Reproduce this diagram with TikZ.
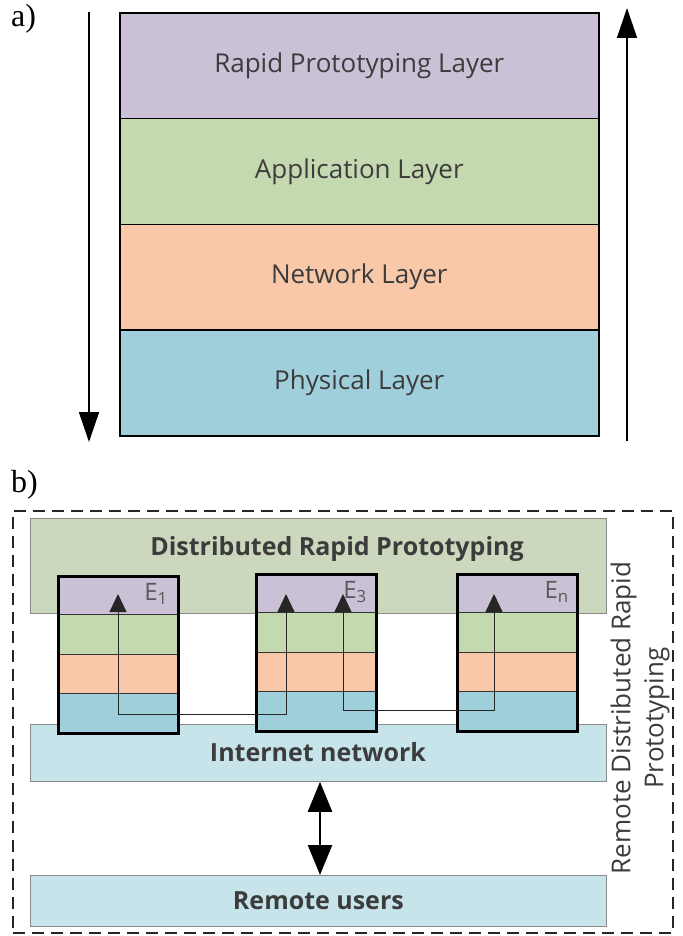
\documentclass[tikz,border=0pt]{standalone}
\usepackage{fontspec}
\setmainfont{Open Sans}
\newfontfamily\serifl{Liberation Serif}
\usetikzlibrary{arrows.meta}
\definecolor{cpurp}{HTML}{CBC1D6}
\definecolor{cgreen}{HTML}{C5D9B0}
\definecolor{corange}{HTML}{F8C8A8}
\definecolor{cblue}{HTML}{A0CFDC}
\definecolor{cdist}{HTML}{CBD8BE}
\definecolor{clight}{HTML}{C6E4EA}
\definecolor{ctext}{HTML}{3C3C3C}
\definecolor{cedge}{HTML}{8A8A8A}
\tikzset{
  layerA/.style={draw=black, line width=1.6pt, minimum width=479pt, minimum height=105.75pt,
    anchor=north west, inner sep=0pt, text=ctext, font=\fontsize{26}{30}\selectfont},
  band/.style={draw=black!80, line width=0.6pt, minimum width=120pt, minimum height=39.25pt,
    anchor=north west, inner sep=0pt},
  frame/.style={draw=black, line width=2.6pt, minimum width=120pt, minimum height=157pt,
    anchor=north west, inner sep=0pt},
  widebox/.style={draw=cedge, line width=0.8pt, minimum width=576pt, anchor=north west,
    inner sep=0pt, text=ctext, font=\fontsize{25}{30}\selectfont\bfseries},
  boldtext/.style={text=ctext, font=\fontsize{25}{30}\selectfont\bfseries},
  bigarrow/.style={line width=1.6pt, -{Triangle[width=20pt,length=30pt]}},
  smallarrow/.style={line width=0.9pt, draw=black!85, {Triangle[width=17pt,length=18pt]}-{Triangle[width=17pt,length=18pt]}},
  elabel/.style={anchor=north east, inner sep=0pt, text=black!65, font=\fontsize{24}{26}\selectfont},
  panel/.style={font=\serifl\fontsize{32}{34}\selectfont, anchor=north west, inner sep=0pt}
}
\begin{document}
\begin{tikzpicture}[x=1pt,y=-1pt]
\useasboundingbox (0,0) rectangle (682,936);
% ---------- a)
\node[panel] (la) at (11,4) {a)};
\node[layerA, fill=cpurp]   (rp)  at (119,12)     {Rapid Prototyping Layer};
\node[layerA, fill=cgreen]  (app) at (119,117.75) {Application Layer};
\node[layerA, fill=corange] (net) at (119,223.5)  {Network Layer};
\node[layerA, fill=cblue]   (phy) at (119,329.25) {Physical Layer};
\coordinate (ldtop) at (89,12);
\coordinate (ldbot) at (89,442);
\coordinate (rutop) at (627,8);
\coordinate (rubot) at (627,441);
\draw[bigarrow] (ldtop) -- (ldbot);
\draw[bigarrow] (rubot) -- (rutop);
% ---------- b)
\node[panel] (lb) at (11,470) {b)};
\node[draw=black!85, line width=1.8pt, dash pattern=on 12pt off 7pt, minimum width=660pt,
  minimum height=422pt, anchor=north west, inner sep=0pt] (outer) at (12,510) {};
\node[widebox, fill=cdist, minimum height=95pt] (dist) at (30,518) {};
\node[boldtext] (disttext) at (337,549) {Distributed Rapid Prototyping};
\node[widebox, fill=clight, minimum height=57pt] (inet) at (30,724) {};
\node[boldtext] (inettext) at (318,752) {Internet network};
\node[widebox, fill=clight, minimum height=51pt] (ru) at (30,875) {Remote users};
% stacks
\foreach \nm/\x/\y in {a/57/575, b/255/573, c/456/573}{
  \node[band, fill=cpurp]   (\nm1) at (\x,\y) {};
  \node[band, fill=cgreen]  (\nm2) at (\x,\y+39.25) {};
  \node[band, fill=corange] (\nm3) at (\x,\y+78.5) {};
  \node[band, fill=cblue]   (\nm4) at (\x,\y+117.75) {};
  \node[frame] (\nm f) at (\x,\y) {};
}
\node[elabel] (e1) at (168,583) {E\textsubscript{1}};
\node[elabel] (e3) at (367,581) {E\textsubscript{3}};
\node[elabel] (en) at (569,581) {E\textsubscript{n}};
% arrows inside stacks
\coordinate (p1t) at (118,594); \coordinate (p1b) at (118,714);
\coordinate (p2t) at (286,594); \coordinate (p2b) at (286,714);
\coordinate (p3t) at (343,594); \coordinate (p3b) at (343,710);
\coordinate (p4t) at (494,594); \coordinate (p4b) at (494,710);
\draw[smallarrow] (p1t) -- (p1b) -- (p2b) -- (p2t);
\draw[smallarrow] (p3t) -- (p3b) -- (p4b) -- (p4t);
% double arrow
\draw[line width=2.4pt, {Triangle[width=24pt,length=30pt]}-{Triangle[width=24pt,length=30pt]}] (inet.south -| 320,0) -- (ru.north -| 320,0);
% rotated label
\node[rotate=90, align=center, text=ctext, font=\fontsize{26}{33}\selectfont] (side) at (640,718)
  {Remote Distributed Rapid\\Prototyping};
\end{tikzpicture}
\end{document}
